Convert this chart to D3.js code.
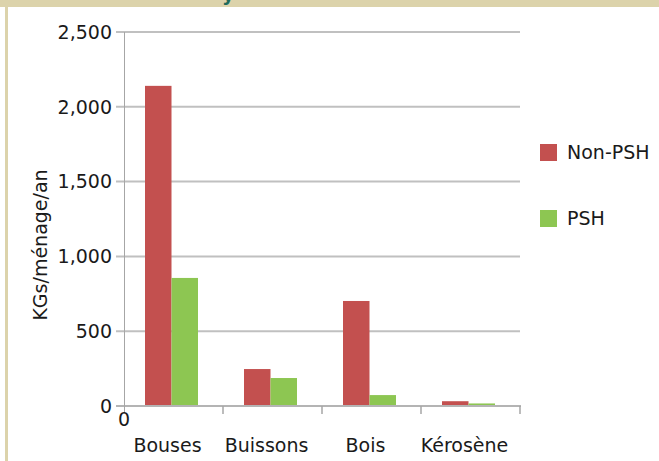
<!DOCTYPE html>
<meta charset="utf-8">
<style>
  body {
    margin: 0;
    background-color: #ffffff;
  }

  svg text {
    font-family: "DejaVu Sans", Verdana, sans-serif;
    font-size: 19px;
    fill: #1a1a1a;
  }
</style>
<svg width="659" height="461"></svg>
<script src="https://d3js.org/d3.v7.min.js"></script>

<script>
  // chart data
  var categories = ["Bouses", "Buissons", "Bois", "Kérosène"];
  var seriesNames = ["Non-PSH", "PSH"];
  var nonPsh = [2140, 247, 702, 32];
  var psh = [856, 187, 73, 17];
  var yTicks = [0, 500, 1000, 1500, 2000, 2500];

  var svg = d3.select("svg"),
    plotLeft = 124, plotRight = 520, plotTop = 32, plotBottom = 406;

  var colours = d3.scaleOrdinal()
    .domain(seriesNames)
    .range(["#C3504F", "#8DC652"]);

  var rows = categories.map(function (c, i) {
    return { cat: c, values: [nonPsh[i], psh[i]] };
  });

  var x = d3.scaleBand().domain(categories).range([plotLeft, plotRight]).padding(0);
  var x1 = d3.scaleBand().domain(seriesNames).range([21, 74]).padding(0);
  var y = d3.scaleLinear().domain([0, 2500]).range([plotBottom, plotTop]);

  // frame bits of the surrounding page
  svg.append("rect").attr("x", 0).attr("y", 0).attr("width", 659).attr("height", 7)
    .attr("fill", "#DCD3AB");
  svg.append("rect").attr("x", 5).attr("y", 0).attr("width", 3).attr("height", 461)
    .attr("fill", "#DCD3AB");
  svg.append("text").attr("x", 222).attr("y", 1)
    .style("font-weight", "bold").style("fill", "#1E6B5C").text("y");

  // gridlines
  svg.append("g")
    .selectAll("line")
    .data(yTicks.slice(1))
    .enter().append("line")
    .attr("x1", plotLeft - 8).attr("x2", plotRight)
    .attr("y1", function (d) { return y(d); })
    .attr("y2", function (d) { return y(d); })
    .attr("stroke", "#C0C0C0")
    .attr("stroke-width", 2);

  svg.append("g")
    .selectAll("text")
    .data(yTicks)
    .enter().append("text")
    .attr("x", 112)
    .attr("y", function (d) { return y(d); })
    .attr("dy", "0.36em")
    .attr("text-anchor", "end")
    .text(d3.format(","));

  // bars
  var groups = svg.append("g")
    .selectAll("g")
    .data(rows)
    .enter().append("g")
    .attr("transform", function (d) { return "translate(" + x(d.cat) + ",0)"; });

  groups.selectAll("rect")
    .data(function (d) { return d.values.map(function (v, i) { return { key: seriesNames[i], value: v }; }); })
    .enter().append("rect")
    .attr("x", function (d) { return x1(d.key); })
    .attr("y", function (d) { return y(d.value); })
    .attr("width", x1.bandwidth())
    .attr("height", function (d) { return y(0) - y(d.value); })
    .attr("fill", function (d) { return colours(d.key); });

  // axes
  svg.append("line")
    .attr("x1", plotLeft - 8).attr("x2", plotRight + 1)
    .attr("y1", y(0)).attr("y2", y(0))
    .attr("stroke", "#B4B4B4").attr("stroke-width", 2);

  svg.append("line")
    .attr("x1", plotLeft + 0.5).attr("x2", plotLeft + 0.5)
    .attr("y1", plotTop).attr("y2", plotBottom + 7)
    .attr("stroke", "#A6A6A6").attr("stroke-width", 1);

  svg.append("g")
    .selectAll("line")
    .data(categories.slice(1).concat(["end"]))
    .enter().append("line")
    .attr("x1", function (d) { return d == "end" ? plotRight : x(d); })
    .attr("x2", function (d) { return d == "end" ? plotRight : x(d); })
    .attr("y1", plotBottom).attr("y2", plotBottom + 8)
    .attr("stroke", "#A6A6A6").attr("stroke-width", 1.5);

  svg.append("text")
    .attr("x", plotLeft).attr("y", 426)
    .attr("text-anchor", "middle")
    .text("0");

  svg.append("g")
    .selectAll("text")
    .data(categories)
    .enter().append("text")
    .attr("x", function (d) { return x(d) + x.bandwidth() / 2 - 6; })
    .attr("y", 452)
    .attr("text-anchor", "middle")
    .text(function (d) { return d; });

  svg.append("text")
    .attr("transform", "translate(47,245) rotate(-90)")
    .attr("text-anchor", "middle")
    .text("KGs/ménage/an");

  // legend
  var legend = svg.append("g")
    .selectAll("g")
    .data(seriesNames)
    .enter().append("g")
    .attr("transform", function (d, i) { return "translate(540," + (144 + i * 66) + ")"; });

  legend.append("rect")
    .attr("width", 17).attr("height", 17)
    .attr("fill", function (d) { return colours(d); });

  legend.append("text")
    .attr("x", 27).attr("y", 8.5).attr("dy", "0.36em")
    .text(function (d) { return d; });
</script>
